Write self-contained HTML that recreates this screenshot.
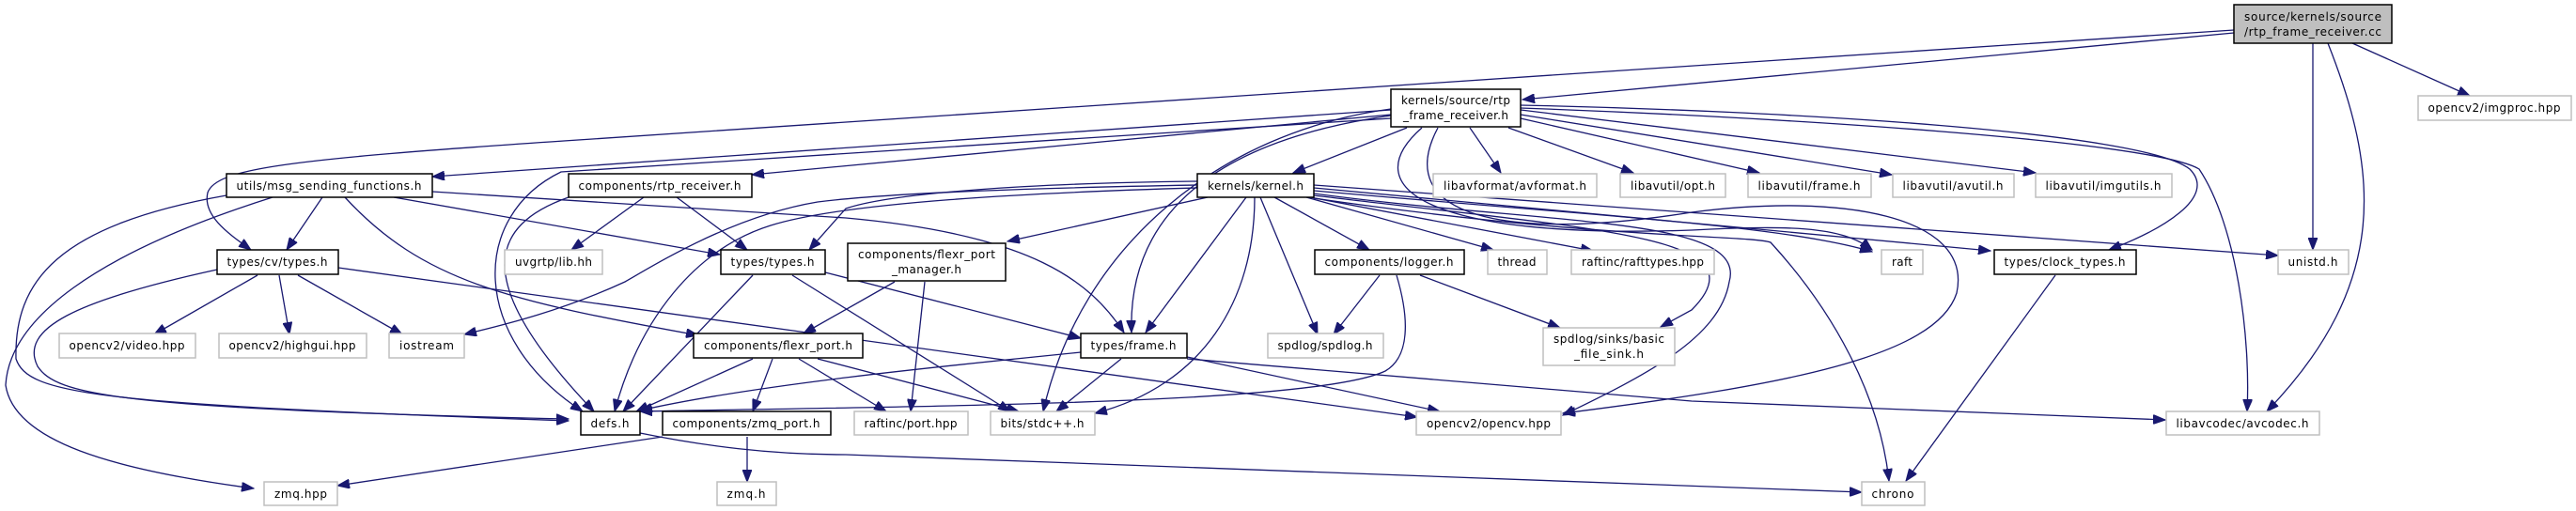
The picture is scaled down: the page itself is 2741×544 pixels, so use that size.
<!DOCTYPE html>
<html><head><meta charset="utf-8"><style>
html,body{margin:0;padding:0;background:#fff;}
svg{display:block;}
text{font-family:"DejaVu Sans","Liberation Sans",sans-serif;font-size:12px;fill:#000;}
.e{fill:none;stroke:#191970;stroke-width:1.3;}
.b{fill:#fff;stroke:#000;stroke-width:1.5;}
.g{fill:#fff;stroke:#bfbfbf;stroke-width:1.5;}
</style></head><body>
<svg width="2741" height="544" viewBox="0 0 2741 544" xmlns="http://www.w3.org/2000/svg">
<defs><marker id="a" markerUnits="userSpaceOnUse" markerWidth="14" markerHeight="10" refX="13" refY="5" orient="auto"><path d="M0,0 L13,5 L0,10 z" fill="#191970" stroke="#191970"/></marker></defs>
<g marker-end="url(#a)">
<!-- from S -->
<path class="e" d="M2377,35 L1620,106"/>
<path class="e" d="M2377,32 C1800,69 1000,125 600,150 C300,170 230,180 221,205 C215,230 245,250 267,266"/>
<path class="e" d="M2503,46 L2628,102"/>
<path class="e" d="M2461,46 L2461,266"/>
<path class="e" d="M2477,46 C2530,180 2545,300 2412,438"/>
<!-- from R -->
<path class="e" d="M1480,117 L460,188"/>
<path class="e" d="M1480,122 L800,186"/>
<path class="e" d="M1480,126 L597,183 C500,230 500,360 620,438"/>
<path class="e" d="M1497,136 L1376,184"/>
<path class="e" d="M1564,136 L1597,184"/>
<path class="e" d="M1605,136 L1738,184"/>
<path class="e" d="M1618,126 L1872,184"/>
<path class="e" d="M1618,122 L2013,186"/>
<path class="e" d="M1618,117 L2166,184"/>
<path class="e" d="M1618,112 C1900,118 2280,140 2330,180 C2360,210 2300,245 2244,266"/>
<path class="e" d="M1618,115 C1900,125 2290,150 2340,180 C2380,240 2395,360 2391,438"/>
<path class="e" d="M1480,116 C1300,140 1150,260 1110,438"/>
<path class="e" d="M1480,123 C1290,150 1200,230 1204,354"/>
<path class="e" d="M1513,136 C1440,200 1520,255 1800,245 C1900,240 1960,240 1992,266"/>
<path class="e" d="M1530,136 C1480,230 1600,258 1800,226 C1960,205 2100,230 2082,312 C2060,380 1900,410 1663,440"/>
<!-- from kernel.h -->
<path class="e" d="M1274,197 C1100,200 950,205 870,215 C780,230 700,280 665,300 C600,330 540,345 494,356"/>
<path class="e" d="M1274,200 C1100,205 900,215 820,240 C740,265 680,340 654,438"/>
<path class="e" d="M1274,193 C1100,195 950,205 900,222 L861,266"/>
<path class="e" d="M1285,210 L1072,257"/>
<path class="e" d="M1326,210 L1219,354"/>
<path class="e" d="M1335,210 C1335,320 1280,410 1165,440"/>
<path class="e" d="M1341,210 L1402,356"/>
<path class="e" d="M1356,210 L1457,266"/>
<path class="e" d="M1390,210 L1589,266"/>
<path class="e" d="M1394,210 L1695,267"/>
<path class="e" d="M1398,203 C1700,230 1900,240 1992,268"/>
<path class="e" d="M1398,200 L2118,267"/>
<path class="e" d="M1398,197 L2424,272"/>
<path class="e" d="M1398,206 C1650,240 1860,230 1840,300 C1830,360 1750,400 1663,442"/>
<path class="e" d="M1398,208 C1700,245 1880,250 1800,330 L1767,348"/>
<path class="e" d="M1398,211 C1700,255 1860,250 1884,258 C1950,330 2000,420 2010,512"/>
<!-- logger -->
<path class="e" d="M1468,293 L1419,356"/>
<path class="e" d="M1511,293 L1660,349"/>
<path class="e" d="M1486,293 C1500,340 1500,380 1474,395 C1400,430 1000,432 681,438"/>
<!-- types/types.h -->
<path class="e" d="M801,293 L663,438"/>
<path class="e" d="M878,290 L1150,360"/>
<path class="e" d="M843,293 L1075,438"/>
<!-- flexr_port_manager -->
<path class="e" d="M952,300 L855,355"/>
<path class="e" d="M984,300 L969,438"/>
<!-- rtp_receiver -->
<path class="e" d="M685,210 L608,266"/>
<path class="e" d="M720,210 L795,266"/>
<path class="e" d="M605,210 C520,240 500,300 632,438"/>
<!-- utils -->
<path class="e" d="M343,210 L305,266"/>
<path class="e" d="M419,210 L766,271"/>
<path class="e" d="M367,210 C450,300 540,320 743,357"/>
<path class="e" d="M460,204 L900,232 C1100,250 1160,300 1196,354"/>
<path class="e" d="M241,208 C60,240 15,300 17,382 C30,420 100,430 605,448"/>
<path class="e" d="M290,210 C100,270 10,340 6,410 C15,470 120,500 270,520"/>
<!-- types/cv/types.h -->
<path class="e" d="M274,293 L164,356"/>
<path class="e" d="M297,293 L308,356"/>
<path class="e" d="M317,293 L428,356"/>
<path class="e" d="M231,287 C80,320 20,350 40,390 C60,420 120,435 605,446"/>
<path class="e" d="M360,285 L1508,444"/>
<!-- flexr_port.h -->
<path class="e" d="M801,382 L677,438"/>
<path class="e" d="M822,382 L801,438"/>
<path class="e" d="M850,382 L943,438"/>
<path class="e" d="M870,382 L1084,438"/>
<!-- frame.h -->
<path class="e" d="M1150,375 C1000,390 800,410 681,437"/>
<path class="e" d="M1193,382 L1124,438"/>
<path class="e" d="M1263,380 L1532,438"/>
<path class="e" d="M1263,382 L1800,427 L2304,447"/>
<!-- misc -->
<path class="e" d="M681,461 C750,475 820,484 900,484 L1981,524"/>
<path class="e" d="M705,465 L359,517"/>
<path class="e" d="M795,465 L795,513"/>
<path class="e" d="M2187,293 L2028,512"/>
</g>
<!-- nodes -->
<rect x="2377" y="5" width="168" height="41" fill="#bfbfbf" stroke="#000" stroke-width="1.5"/>
<text x="2461" y="22" text-anchor="middle" textLength="146">source/kernels/source</text>
<text x="2461" y="38" text-anchor="middle" textLength="146">/rtp_frame_receiver.cc</text>
<rect class="g" x="2573" y="102" width="163" height="26"/><text x="2654" y="119" text-anchor="middle" textLength="141">opencv2/imgproc.hpp</text>
<rect class="b" x="1480" y="95" width="138" height="40"/>
<text x="1549" y="111" text-anchor="middle" textLength="116">kernels/source/rtp</text>
<text x="1549" y="127" text-anchor="middle" textLength="112">_frame_receiver.h</text>
<rect class="b" x="241" y="185" width="219" height="25"/><text x="350" y="202" text-anchor="middle" textLength="197">utils/msg_sending_functions.h</text>
<rect class="b" x="605" y="185" width="195" height="25"/><text x="702" y="202" text-anchor="middle" textLength="173">components/rtp_receiver.h</text>
<rect class="b" x="1274" y="185" width="124" height="25"/><text x="1336" y="202" text-anchor="middle" textLength="102">kernels/kernel.h</text>
<rect class="g" x="1525" y="185" width="174" height="25"/><text x="1612" y="202" text-anchor="middle" textLength="152">libavformat/avformat.h</text>
<rect class="g" x="1724" y="185" width="112" height="25"/><text x="1780" y="202" text-anchor="middle" textLength="90">libavutil/opt.h</text>
<rect class="g" x="1860" y="185" width="131" height="25"/><text x="1925" y="202" text-anchor="middle" textLength="109">libavutil/frame.h</text>
<rect class="g" x="2014" y="185" width="129" height="25"/><text x="2078" y="202" text-anchor="middle" textLength="107">libavutil/avutil.h</text>
<rect class="g" x="2166" y="185" width="145" height="25"/><text x="2238" y="202" text-anchor="middle" textLength="123">libavutil/imgutils.h</text>
<rect class="b" x="231" y="266" width="129" height="26"/><text x="295" y="283" text-anchor="middle" textLength="107">types/cv/types.h</text>
<rect class="g" x="537" y="266" width="104" height="26"/><text x="589" y="283" text-anchor="middle" textLength="82">uvgrtp/lib.hh</text>
<rect class="b" x="767" y="266" width="111" height="26"/><text x="822" y="283" text-anchor="middle" textLength="89">types/types.h</text>
<rect class="b" x="902" y="259" width="168" height="40"/>
<text x="986" y="275" text-anchor="middle" textLength="146">components/flexr_port</text>
<text x="986" y="291" text-anchor="middle" textLength="74">_manager.h</text>
<rect class="b" x="1399" y="266" width="159" height="26"/><text x="1478" y="283" text-anchor="middle" textLength="137">components/logger.h</text>
<rect class="g" x="1583" y="266" width="63" height="26"/><text x="1614" y="283" text-anchor="middle" textLength="41">thread</text>
<rect class="g" x="1672" y="266" width="152" height="26"/><text x="1748" y="283" text-anchor="middle" textLength="130">raftinc/rafttypes.hpp</text>
<rect class="g" x="2002" y="266" width="44" height="26"/><text x="2024" y="283" text-anchor="middle" textLength="22">raft</text>
<rect class="b" x="2122" y="266" width="151" height="26"/><text x="2197" y="283" text-anchor="middle" textLength="129">types/clock_types.h</text>
<rect class="g" x="2424" y="266" width="75" height="26"/><text x="2461" y="283" text-anchor="middle" textLength="53">unistd.h</text>
<rect class="g" x="63" y="355" width="145" height="26"/><text x="135" y="372" text-anchor="middle" textLength="123">opencv2/video.hpp</text>
<rect class="g" x="233" y="355" width="157" height="26"/><text x="311" y="372" text-anchor="middle" textLength="135">opencv2/highgui.hpp</text>
<rect class="g" x="414" y="355" width="80" height="26"/><text x="454" y="372" text-anchor="middle" textLength="58">iostream</text>
<rect class="b" x="738" y="355" width="180" height="26"/><text x="828" y="372" text-anchor="middle" textLength="158">components/flexr_port.h</text>
<rect class="b" x="1150" y="355" width="113" height="26"/><text x="1206" y="372" text-anchor="middle" textLength="91">types/frame.h</text>
<rect class="g" x="1349" y="355" width="123" height="26"/><text x="1410" y="372" text-anchor="middle" textLength="101">spdlog/spdlog.h</text>
<rect class="g" x="1642" y="349" width="140" height="40"/>
<text x="1712" y="365" text-anchor="middle" textLength="118">spdlog/sinks/basic</text>
<text x="1712" y="381" text-anchor="middle" textLength="74">_file_sink.h</text>
<rect class="b" x="618" y="438" width="63" height="25"/><text x="649" y="455" text-anchor="middle" textLength="41">defs.h</text>
<rect class="b" x="705" y="438" width="179" height="25"/><text x="794" y="455" text-anchor="middle" textLength="157">components/zmq_port.h</text>
<rect class="g" x="909" y="438" width="121" height="25"/><text x="969" y="455" text-anchor="middle" textLength="99">raftinc/port.hpp</text>
<rect class="g" x="1054" y="438" width="111" height="25"/><text x="1109" y="455" text-anchor="middle" textLength="89">bits/stdc++.h</text>
<rect class="g" x="1507" y="438" width="154" height="25"/><text x="1584" y="455" text-anchor="middle" textLength="132">opencv2/opencv.hpp</text>
<rect class="g" x="2305" y="438" width="163" height="25"/><text x="2386" y="455" text-anchor="middle" textLength="141">libavcodec/avcodec.h</text>
<rect class="g" x="281" y="513" width="78" height="25"/><text x="320" y="530" text-anchor="middle" textLength="56">zmq.hpp</text>
<rect class="g" x="763" y="513" width="63" height="25"/><text x="794" y="530" text-anchor="middle" textLength="41">zmq.h</text>
<rect class="g" x="1981" y="513" width="67" height="25"/><text x="2014" y="530" text-anchor="middle" textLength="45">chrono</text>
</svg>
</body></html>
